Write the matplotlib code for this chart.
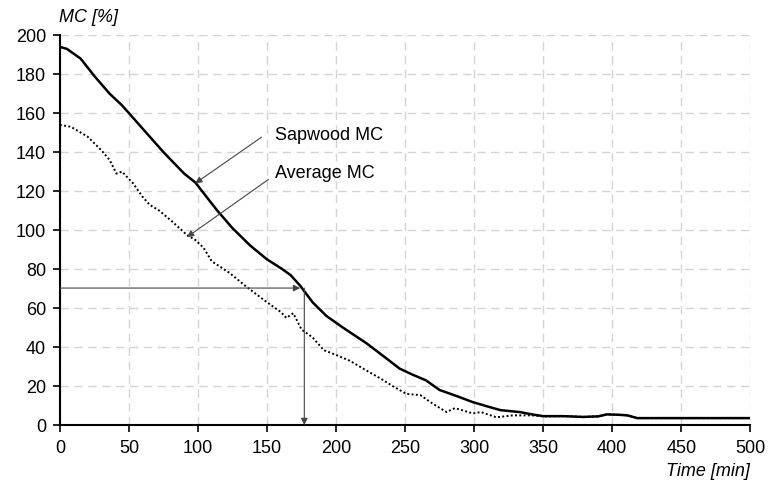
import matplotlib.pyplot as plt

plt.rcParams['font.family'] = ['Liberation Sans', 'DejaVu Sans']

# sapwood MC (solid)
sap_t = [0, 5, 15, 25, 36, 45, 50, 60, 75, 90, 98, 114, 125, 138, 150, 160, 167, 174,
         183, 193, 205, 222, 235, 246, 255, 265, 275, 287, 299, 310, 319, 333, 342, 350,
         365, 379, 390, 396, 405, 411, 418, 430, 450, 475, 500]
sap_mc = [194, 193, 188, 179, 170, 164, 160, 152, 140, 129, 124.5, 110, 101, 92, 85, 80.5, 77, 71.5,
          63, 56, 50, 42, 35, 29, 26, 23, 18, 15, 11.8, 9.5, 7.7, 6.7, 5.5, 4.6,
          4.6, 4.2, 4.5, 5.5, 5.3, 5, 3.6, 3.6, 3.6, 3.6, 3.6]

# average MC (dotted)
avg_t = [0, 8, 20, 30, 36, 41, 45, 53, 60, 65, 72, 82, 92, 98, 104, 110, 123, 135, 150,
         160, 164, 169, 175, 183, 191, 200, 210, 222, 232, 241, 251, 261, 270, 280, 286,
         292, 299, 305, 316, 328, 342, 350, 365, 379, 390, 396, 405, 411, 418, 450, 500]
avg_mc = [154, 153, 148, 141, 136, 129, 130, 124, 117, 113, 110, 104, 97.5, 95, 91, 84, 78, 71, 63,
          58, 55, 57.4, 49, 45, 38.5, 36, 33, 28, 24, 20, 16, 15.4, 11, 6.7, 8.7,
          7.5, 6, 6.7, 4, 5, 5, 4.5, 4.6, 4.2, 4.5, 5.5, 5.3, 5, 3.6, 3.6, 3.6]

x_ticks = [0, 50, 100, 150, 200, 250, 300, 350, 400, 450, 500]
y_ticks = [0, 20, 40, 60, 80, 100, 120, 140, 160, 180, 200]

fig = plt.figure(figsize=(7.68, 4.82), dpi=100)
ax = fig.add_axes([0.078, 0.118, 0.899, 0.809])

ax.plot(sap_t, sap_mc, color='black', lw=1.8, zorder=3)
ax.plot(avg_t, avg_mc, color='black', lw=1.4, ls=(0, (1, 1.2)), zorder=3)

ax.set_xlim(0, 500)
ax.set_ylim(0, 200)
ax.set_xticks(x_ticks)
ax.set_yticks(y_ticks)
ax.tick_params(labelsize=13, direction='out', length=5, width=1.2, colors='black')
ax.tick_params(axis='x', pad=6)
ax.tick_params(axis='y', pad=5)
ax.grid(True, color='#d4d4d4', ls=(0, (6, 4)), lw=1)
ax.set_axisbelow(True)
for s in ['top', 'right']:
    ax.spines[s].set_visible(False)
for s in ['left', 'bottom']:
    ax.spines[s].set_linewidth(1.5)

ax.text(-1, 209, 'MC [%]', fontsize=13, style='italic', ha='left', va='center')
ax.text(500, -24, 'Time [min]', fontsize=13, style='italic', ha='right', va='center')

arrow = dict(arrowstyle='-|>', color='#444444', lw=0.8, mutation_scale=10, shrinkA=0, shrinkB=0)
ax.annotate('', xy=(98, 124), xytext=(146, 147.7), arrowprops=arrow)
ax.annotate('', xy=(92, 96.4), xytext=(151, 126), arrowprops=arrow)
ax.text(156, 148.7, 'Sapwood MC', fontsize=13, ha='left', va='center')
ax.text(156, 129, 'Average MC', fontsize=13, ha='left', va='center')

# reading lines
ax.annotate('', xy=(174, 70.3), xytext=(0, 70.3), arrowprops=arrow)
ax.annotate('', xy=(177, 0), xytext=(177, 70.3), arrowprops=arrow)

fig.savefig('out.png', dpi=100)
